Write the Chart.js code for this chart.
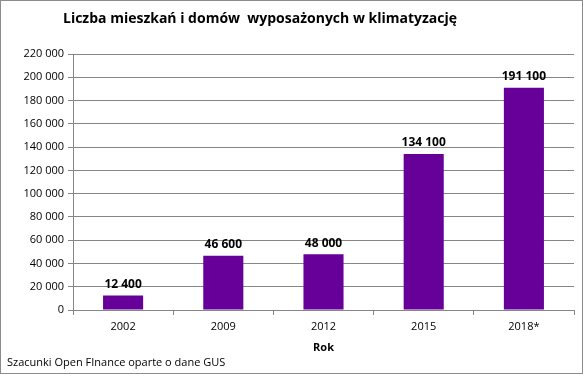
<!DOCTYPE html>
<html>
<head>
<meta charset="utf-8">
<script src="https://cdn.jsdelivr.net/npm/chart.js@4"></script>
<style>
  html, body { margin: 0; padding: 0; background: #fff; }
  #wrap { width: 583px; height: 374px; box-sizing: border-box; border: 1px solid #8c8c8c; }
  canvas { display: block; }
</style>
</head>
<body>
<div id="wrap"><canvas id="chart" width="581" height="372"></canvas></div>
<script>
const years = ["2002", "2009", "2012", "2015", "2018*"];
const homes = [12400, 46600, 48000, 134100, 191100];
const yMax = 220000;
const yStep = 20000;

const FONT = "'Open Sans', 'Liberation Sans', sans-serif";

function spaced(v) {
  return String(v).replace(/\B(?=(\d{3})+(?!\d))/g, " ");
}

// value labels above each bar
const barLabels = {
  id: "barLabels",
  afterDatasetsDraw(chart) {
    const ctx = chart.ctx;
    const meta = chart.getDatasetMeta(0);
    ctx.save();
    ctx.font = "bold 12px " + FONT;
    ctx.fillStyle = "#000";
    ctx.textAlign = "center";
    ctx.textBaseline = "bottom";
    meta.data.forEach((bar, i) => {
      ctx.fillText(spaced(homes[i]), bar.x, bar.y - 5);
    });
    ctx.restore();
  }
};

// title (sits a bit left of centre in the original) and source note
const extraText = {
  id: "extraText",
  afterDraw(chart) {
    const ctx = chart.ctx;
    ctx.save();
    ctx.fillStyle = "#000";
    ctx.textBaseline = "middle";
    ctx.font = "bold 14px " + FONT;
    ctx.textAlign = "center";
    ctx.fillText("Liczba mieszkań i domów  wyposażonych w klimatyzację", 259, 18);
    ctx.font = "11px " + FONT;
    ctx.textAlign = "left";
    ctx.fillText("Szacunki Open FInance oparte o dane GUS", 6, 362);
    ctx.restore();
  }
};

new Chart(document.getElementById("chart"), {
  type: "bar",
  data: {
    labels: years,
    datasets: [{
      data: homes,
      backgroundColor: "#660099",
      barPercentage: 0.4,
      categoryPercentage: 1.0
    }]
  },
  plugins: [barLabels, extraText],
  options: {
    responsive: false,
    animation: false,
    layout: { padding: { left: 0, right: 8, top: 53, bottom: 19 } },
    plugins: {
      legend: { display: false },
      tooltip: { enabled: false },
      title: { display: false }
    },
    scales: {
      x: {
        grid: {
          display: true,
          drawOnChartArea: false,
          drawTicks: true,
          tickLength: 5,
          color: "#868686"
        },
        border: { color: "#868686" },
        ticks: { color: "#000", font: { family: FONT, size: 11 }, padding: 5 },
        title: {
          display: true,
          text: "Rok",
          color: "#000",
          font: { family: FONT, size: 11, weight: "bold" },
          padding: { top: 2, bottom: 0 }
        },
        afterFit(scale) { scale.height = 44; }
      },
      y: {
        min: 0,
        max: yMax,
        grid: {
          color: "#868686",
          drawTicks: true,
          tickLength: 5
        },
        border: { color: "#868686" },
        ticks: {
          stepSize: yStep,
          color: "#000",
          font: { family: FONT, size: 11 },
          padding: 4,
          callback: (v) => spaced(v)
        },
        afterFit(scale) { scale.width = 72; }
      }
    }
  }
});
</script>
</body>
</html>
